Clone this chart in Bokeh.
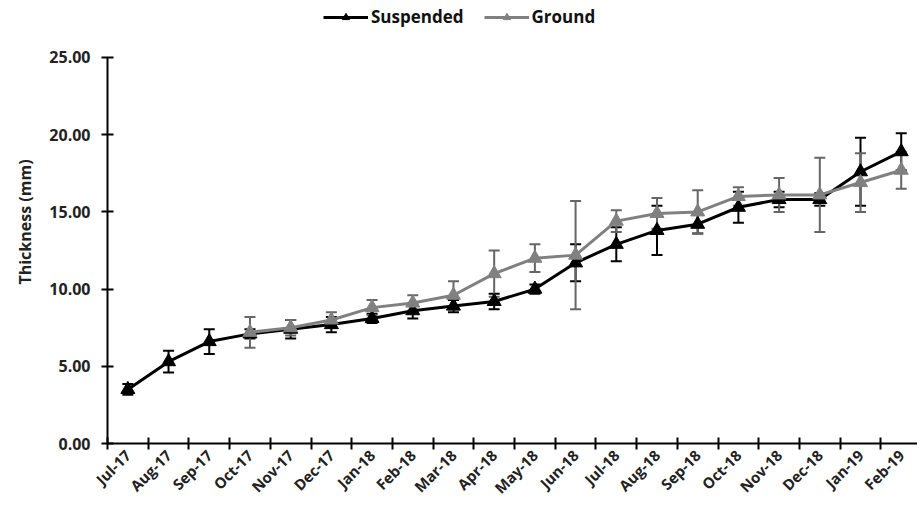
from bokeh.plotting import figure
from bokeh.models import (Range1d, FixedTicker, LinearAxis, ColumnDataSource, Whisker,
                          TeeHead, Legend, LegendItem, PrintfTickFormatter)
from bokeh.embed import file_html
from bokeh.resources import INLINE
import math

months = ["Jul-17", "Aug-17", "Sep-17", "Oct-17", "Nov-17", "Dec-17", "Jan-18", "Feb-18",
          "Mar-18", "Apr-18", "May-18", "Jun-18", "Jul-18", "Aug-18", "Sep-18", "Oct-18",
          "Nov-18", "Dec-18", "Jan-19", "Feb-19"]

suspended = [3.5, 5.3, 6.6, 7.1, 7.4, 7.7, 8.1, 8.6, 8.9, 9.2, 10.0, 11.7, 12.9, 13.8,
             14.2, 15.3, 15.8, 15.8, 17.6, 18.9]
suspended_err = [0.35, 0.7, 0.8, 0.3, 0.6, 0.5, 0.3, 0.5, 0.4, 0.5, 0.3, 1.2, 1.1, 1.6,
                 0.6, 1.0, 0.5, 0.4, 2.2, 1.2]

ground_months = months[3:]
ground = [7.2, 7.5, 8.0, 8.8, 9.1, 9.6, 11.0, 12.0, 12.2, 14.4, 14.9, 15.0, 16.0, 16.1,
          16.1, 16.9, 17.7]
ground_err = [1.0, 0.5, 0.5, 0.5, 0.5, 0.9, 1.5, 0.9, 3.5, 0.7, 1.0, 1.4, 0.6, 1.1,
              2.4, 1.9, 1.2]

y_ticks = [0, 5, 10, 15, 20, 25]

FONT = "Open Sans"
BLACK = "#000000"
GRAY = "#808080"
GRAY_ERR = "#666666"

xs_s = [months.index(m) + 0.5 for m in months]
xs_g = [months.index(m) + 0.5 for m in ground_months]

src_s = ColumnDataSource(dict(x=xs_s, y=suspended,
                              lo=[v - e for v, e in zip(suspended, suspended_err)],
                              hi=[v + e for v, e in zip(suspended, suspended_err)]))
src_g = ColumnDataSource(dict(x=xs_g, y=ground,
                              lo=[v - e for v, e in zip(ground, ground_err)],
                              hi=[v + e for v, e in zip(ground, ground_err)]))

# frame spans the full top of the canvas; axis line limited to 0..25 via bounds
p = figure(width=917, height=510, output_backend="svg", toolbar_location=None,
           x_range=Range1d(0, 19.9), y_range=Range1d(0, 28.69),
           x_axis_location=None, y_axis_location=None,
           min_border_left=107, min_border_right=0, min_border_top=0, min_border_bottom=67)
p.outline_line_color = None
p.xgrid.visible = False
p.ygrid.visible = False
p.background_fill_color = "white"
p.border_fill_color = "white"

# y axis
yax = LinearAxis(ticker=FixedTicker(ticks=y_ticks), formatter=PrintfTickFormatter(format="%.2f"),
                 axis_label="Thickness (mm)", bounds=(0, 25))
yax.axis_line_width = 2
yax.major_tick_line_width = 2
yax.major_tick_in = 6
yax.major_tick_out = 6
yax.minor_tick_line_color = None
yax.major_label_text_font = FONT
yax.major_label_text_font_style = "bold"
yax.major_label_text_font_size = "16px"
yax.major_label_text_color = "#222222"
yax.major_label_standoff = 11
yax.axis_label_text_font = FONT
yax.axis_label_text_font_style = "bold"
yax.axis_label_text_font_size = "16px"
yax.axis_label_text_color = "#222222"
yax.axis_label_standoff = 10
p.add_layout(yax, "left")

# x axis: tick marks between categories (labels hidden)
xax = LinearAxis(ticker=FixedTicker(ticks=list(range(0, 21))),
                 major_label_overrides={i: "" for i in range(0, 21)})
xax.axis_line_width = 2
xax.major_tick_line_width = 2
xax.major_tick_in = 6
xax.major_tick_out = 6
xax.minor_tick_line_color = None
xax.major_label_text_font_size = "2px"
xax.major_label_standoff = 0
p.add_layout(xax, "below")

# x axis labels at category centers
lab = LinearAxis(ticker=FixedTicker(ticks=xs_s),
                 major_label_overrides={x: m for x, m in zip(xs_s, months)})
lab.axis_line_color = None
lab.major_tick_line_color = None
lab.minor_tick_line_color = None
lab.major_tick_in = 0
lab.major_tick_out = 0
lab.major_label_orientation = math.pi / 4
lab.major_label_text_font = FONT
lab.major_label_text_font_style = "bold"
lab.major_label_text_font_size = "15px"
lab.major_label_text_color = "#222222"
lab.major_label_standoff = 3
p.add_layout(lab, "below")

# error bars
w_s = Whisker(source=src_s, base="x", lower="lo", upper="hi", line_color=BLACK, line_width=2,
              upper_head=TeeHead(size=11, line_color=BLACK, line_width=2),
              lower_head=TeeHead(size=11, line_color=BLACK, line_width=2))
p.add_layout(w_s)
l_s = p.line("x", "y", source=src_s, line_color=BLACK, line_width=3)
m_s = p.scatter("x", "y", source=src_s, marker="triangle", size=14, fill_color=BLACK, line_color=BLACK)

w_g = Whisker(source=src_g, base="x", lower="lo", upper="hi", line_color=GRAY_ERR, line_width=2,
              upper_head=TeeHead(size=11, line_color=GRAY_ERR, line_width=2),
              lower_head=TeeHead(size=11, line_color=GRAY_ERR, line_width=2))
p.add_layout(w_g)
l_g = p.line("x", "y", source=src_g, line_color=GRAY, line_width=3)
m_g = p.scatter("x", "y", source=src_g, marker="triangle", size=14, fill_color=GRAY, line_color=GRAY)

legend = Legend(items=[LegendItem(label="Suspended", renderers=[l_s, m_s]),
                       LegendItem(label="Ground", renderers=[l_g, m_g])],
                orientation="horizontal", location=(216, 415))
legend.label_text_font = FONT
legend.label_text_font_style = "bold"
legend.label_text_font_size = "17px"
legend.label_text_color = "#111111"
legend.glyph_width = 45
legend.glyph_height = 18
legend.spacing = 20
legend.padding = 2
legend.margin = 0
legend.label_standoff = 3
legend.border_line_color = None
legend.background_fill_alpha = 0
p.add_layout(legend, "center")

open("out.html", "w").write(file_html(p, INLINE))
